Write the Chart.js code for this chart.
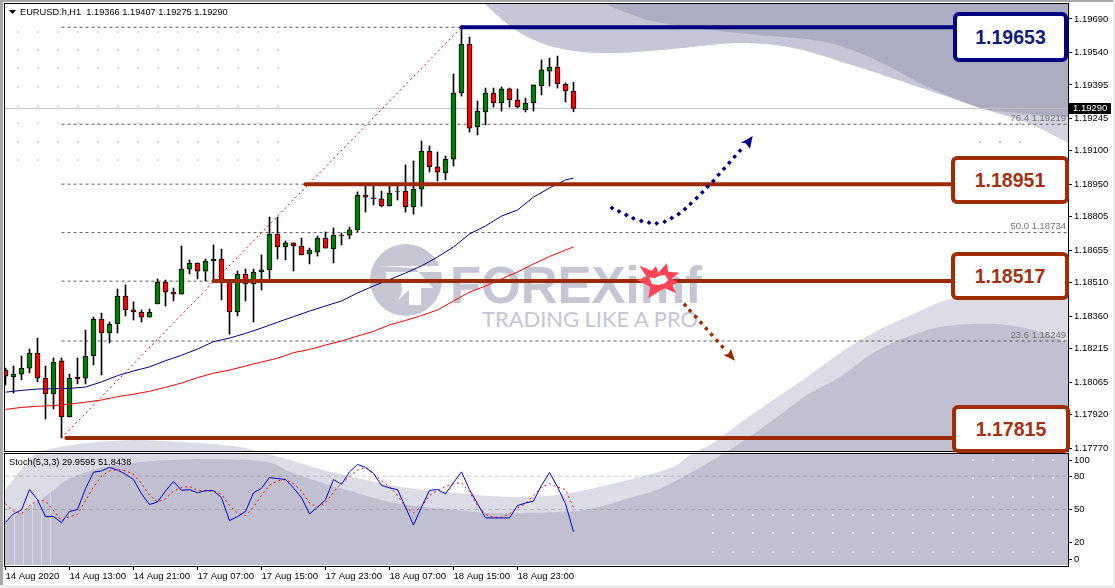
<!DOCTYPE html>
<html><head><meta charset="utf-8">
<script src="https://cdn.jsdelivr.net/npm/chart.js@4/dist/chart.umd.min.js"></script>
<style>
html,body{margin:0;padding:0;background:#fff;width:1115px;height:588px;overflow:hidden;font-family:"Liberation Sans",sans-serif}
.abs{position:absolute}
canvas{position:absolute;left:0}
.box{position:absolute;box-sizing:border-box;background:#fff;border:4px solid;border-radius:6px;font:bold 19.5px "Liberation Sans",sans-serif;display:flex;align-items:center;justify-content:center}
</style></head><body>
<div class="abs" style="left:0;top:0;width:1115px;height:2px;background:#a8a8a8"></div>
<div class="abs" style="left:0;top:0;width:3px;height:588px;background:#a8a8a8"></div>
<div class="abs" style="left:1113px;top:0;width:2px;height:588px;background:#ececec"></div>
<div class="abs" style="left:0;top:585px;width:1115px;height:3px;background:#ececec"></div>
<svg id="bg" class="abs" style="left:0;top:0" width="1115" height="588"></svg>
<canvas id="main" style="top:0" width="1115" height="452"></canvas>
<canvas id="stoch" style="top:452px" width="1115" height="136"></canvas>
<svg id="fg" class="abs" style="left:0;top:0" width="1115" height="588"></svg>
<div class="box" style="left:953px;top:12px;width:115px;height:50px;border-color:#000080;color:#101c80">1.19653</div>
<div class="box" style="left:951px;top:156px;width:118px;height:48px;border-color:#a02c00;color:#a53010">1.18951</div>
<div class="box" style="left:951px;top:252px;width:118px;height:48px;border-color:#a02c00;color:#a53010">1.18517</div>
<div class="box" style="left:952px;top:405px;width:118px;height:48px;border-color:#a02c00;color:#a53010">1.17815</div>
<script>
const symbolTitle = 'EURUSD.h,H1  1.19366 1.19407 1.19275 1.19290';
const stochTitle = 'Stoch(5,3,3) 29.9595 51.8438';
const candleOpen = [1.18119,1.18088,1.18101,1.18128,1.18195,1.18083,1.18012,1.18160,1.17909,1.18088,
1.18083,1.18182,1.18347,1.18285,1.18325,1.18450,1.18388,1.18379,1.18356,1.18415,
1.18513,1.18468,1.18459,1.18571,1.18598,1.18562,1.18607,1.18616,1.18522,1.18379,
1.18549,1.18504,1.18558,1.18567,1.18728,1.18670,1.18688,1.18674,1.18638,1.18647,
1.18710,1.18661,1.18723,1.18723,1.18746,1.18902,1.18890,1.18885,1.18853,1.18916,
1.18920,1.18849,1.18929,1.19099,1.19028,1.19001,1.19063,1.19359,1.19578,1.19207,
1.19274,1.19359,1.19314,1.19377,1.19328,1.19283,1.19314,1.19390,1.19457,1.19475,
1.19399,1.19366];
const candleClose = [1.18092,1.18101,1.18128,1.18195,1.18083,1.18012,1.18155,1.17909,1.18083,1.18079,
1.18182,1.18347,1.18285,1.18325,1.18450,1.18388,1.18379,1.18356,1.18379,1.18513,
1.18468,1.18459,1.18571,1.18598,1.18562,1.18607,1.18616,1.18522,1.18379,1.18549,
1.18504,1.18558,1.18567,1.18728,1.18670,1.18688,1.18674,1.18634,1.18656,1.18710,
1.18665,1.18723,1.18719,1.18746,1.18902,1.18893,1.18886,1.18853,1.18911,1.18918,
1.18849,1.18929,1.19099,1.19028,1.19005,1.19063,1.19359,1.19578,1.19202,1.19278,
1.19359,1.19314,1.19377,1.19328,1.19296,1.19314,1.19395,1.19462,1.19475,1.19399,
1.19368,1.19290];
const candleHigh = [1.18128,1.18137,1.18182,1.18213,1.18262,1.18137,1.18173,1.18173,1.18101,1.18173,
1.18298,1.18356,1.18374,1.18334,1.18482,1.18500,1.18424,1.18388,1.18392,1.18527,
1.18522,1.18486,1.18674,1.18612,1.18598,1.18616,1.18679,1.18661,1.18522,1.18562,
1.18571,1.18571,1.18634,1.18804,1.18804,1.18697,1.18688,1.18710,1.18665,1.18719,
1.18737,1.18755,1.18732,1.18759,1.18916,1.18947,1.18943,1.18920,1.18947,1.18947,
1.19037,1.19055,1.19144,1.19122,1.19095,1.19077,1.19444,1.19653,1.19609,1.19323,
1.19381,1.19381,1.19386,1.19381,1.19377,1.19336,1.19395,1.19507,1.19515,1.19524,
1.19404,1.19407];
const candleLow = [1.18052,1.18016,1.18075,1.18106,1.18066,1.17900,1.17945,1.17815,1.17909,1.18057,
1.18057,1.18142,1.18097,1.18240,1.18285,1.18361,1.18343,1.18334,1.18356,1.18415,
1.18406,1.18428,1.18459,1.18549,1.18527,1.18518,1.18518,1.18433,1.18280,1.18361,
1.18428,1.18334,1.18477,1.18522,1.18616,1.18612,1.18562,1.18634,1.18594,1.18629,
1.18665,1.18598,1.18679,1.18706,1.18737,1.18826,1.18858,1.18849,1.18853,1.18880,
1.18826,1.18817,1.18853,1.19005,1.18965,1.18970,1.19032,1.19345,1.19184,1.19171,
1.19216,1.19296,1.19278,1.19296,1.19292,1.19274,1.19278,1.19350,1.19390,1.19381,
1.19319,1.19275];
const maIndex = [0,2,4,6,8,10,12,14,16,18,20,22,24,26,28,30,32,34,36,38,40,42,44,46,48,50,52,54,56,58,60,62,64,66,68,70,71];
const maBlue = [1.18020,1.18028,1.18034,1.18036,1.18037,1.18043,1.18066,1.18094,1.18115,1.18133,1.18161,1.18185,1.18213,1.18246,1.18262,1.18283,1.18307,1.18333,1.18358,1.18383,1.18406,1.18428,1.18464,1.18495,1.18524,1.18553,1.18585,1.18625,1.18670,1.18728,1.18764,1.18808,1.18835,1.18893,1.18934,1.18970,1.18978];
const maRed = [1.17943,1.17952,1.17957,1.17960,1.17966,1.17975,1.17985,1.18000,1.18011,1.18024,1.18042,1.18061,1.18085,1.18105,1.18119,1.18137,1.18155,1.18172,1.18197,1.18211,1.18231,1.18249,1.18271,1.18292,1.18321,1.18341,1.18363,1.18388,1.18428,1.18468,1.18495,1.18527,1.18558,1.18594,1.18627,1.18656,1.18670];
const stochMain = [38.5,46,49.7,67.9,58.8,43.6,43.6,38.2,48.2,50,68.8,83.6,84.8,87.9,85.5,81.8,77,64.2,54.5,56.7,66.7,75.2,67.3,67.9,65.1,67,67,60.6,40,43.6,48.2,65.1,69.1,78.8,77.9,77,69.4,60.6,46,52.1,58.8,77,72.7,83.9,90.6,87.9,82.4,71.8,69.4,67.9,52.1,36,52.1,67.3,67.9,64.2,74.2,83.9,67.9,55.2,42.4,42.4,42.4,42.4,53.6,55.8,57.6,71.8,83.3,70.3,55.2,29.96];
const stochSignal = [55.2,48.5,46,53.6,58.2,57.6,49.1,40,43.6,45.5,58.2,70.3,80,84.8,86,84.8,81.8,73.3,62.7,56.7,59.7,66.7,69.7,70.9,67.3,66.7,66.7,63.6,53.6,46.7,44.5,52.1,62.7,71.8,75.8,77,73.3,66.7,55.8,52.1,56.1,65.8,73.3,80,85.5,87.9,82.4,75.8,70.9,62.7,52.1,47,52.7,62.7,67.3,70.9,73.3,74.2,65.8,53.6,45.5,43,43,46,51.5,55.2,62.7,70.3,73.3,70.3,67.9,51.84];
const timeLabels = ['14 Aug 2020','14 Aug 13:00','14 Aug 21:00','17 Aug 07:00','17 Aug 15:00','17 Aug 23:00','18 Aug 07:00','18 Aug 15:00','18 Aug 23:00'];
const priceTicks = [1.19690,1.19540,1.19395,1.19245,1.19100,1.18950,1.18805,1.18655,1.18510,1.18360,1.18215,1.18065,1.17920,1.17770];
const stochTickSpots = [94,80,50,20,5];
const stochTickLabels = ['100','80','50','20','0'];
const stochLevels = [80,50];
const lastPrice = 1.19290;
const fibPrices = [1.19653,1.19219,1.18951,1.18734,1.18517,1.18249];
const fibLabels = ['','76.4','','50.0','','23.6'];
const fibStart = 7, fibHigh = 57, fibLow = 1.17815;
const levelPrices = [1.19653,1.18951,1.18517,1.17815];
const levelStart = [57,37.5,26,7.6];
const levelColors = ['#000080','#9c2a00','#9c2a00','#9c2a00'];

const FONT = '9.5px "Liberation Sans"';
const TITLE_FONT = '9.25px "Liberation Sans"';
const xMin = -0.0625, xMax = 132.8125;
const idx = candleOpen.map((_, i) => i);
const hl = (x0, y) => [{x:x0,y},{x:xMax,y}];
const rightW = 47;
const noPad = s => { s.paddingTop=0; s.paddingBottom=0; s.paddingLeft=0; s.paddingRight=0; };

const xScale = (display) => ({
  type:'linear', min:xMin, max:xMax, offset:false, display,
  grid:{display, drawOnChartArea:false, tickLength:4, tickColor:'#000', offset:false},
  border:{display:false},
  afterBuildTicks:s=>{ s.ticks = timeLabels.map((_,i)=>({value:i*8})); },
  ticks:{autoSkip:false, maxRotation:0, align:'start', color:'#000', font:{family:'Liberation Sans',size:9.5}, padding:1,
    callback:v=>timeLabels[v/8]},
  afterFit:s=>{ s.height = display?22:0; noPad(s); }
});
const frame = {
  id:'frame',
  afterDraw(c){
    const a=c.chartArea, g=c.ctx; g.save(); g.strokeStyle='#000'; g.lineWidth=1;
    g.strokeRect(a.left-0.5,a.top-0.5,a.right-a.left+1,a.bottom-a.top+1); g.restore();
  }
};
const mainText = {
  id:'mainText',
  afterDraw(c){
    const g=c.ctx, y=c.scales.y; g.save(); g.font=TITLE_FONT; g.textBaseline='middle';
    g.fillStyle='#000'; g.beginPath(); g.moveTo(9,10); g.lineTo(16,10); g.lineTo(12.5,14); g.closePath(); g.fill();
    g.fillStyle='#000'; g.textAlign='left'; g.fillText(symbolTitle,20,12.5);
    g.font=FONT; g.fillStyle='#747474'; g.textAlign='right';
    fibPrices.forEach((p,i)=>{ if(fibLabels[i]) g.fillText(fibLabels[i]+' '+p.toFixed(5),1066,y.getPixelForValue(p)-6); });
    const ty=Math.round(y.getPixelForValue(lastPrice));
    g.fillStyle='#000'; g.fillRect(1069,ty-5,42,11);
    g.fillStyle='#fff'; g.textAlign='left'; g.fillText(lastPrice.toFixed(5),1073,ty+0.5);
    g.restore();
  }
};
const stochText = {
  id:'stochText',
  afterDraw(c){ const g=c.ctx; g.save(); g.font=TITLE_FONT; g.textBaseline='middle'; g.fillStyle='#000'; g.textAlign='left'; g.fillText(stochTitle,9,10.5); g.restore(); }
};
const line = (data,color,extra) => Object.assign({type:'line',data,borderColor:color,borderWidth:1,pointRadius:0,tension:0,fill:false},extra||{});

new Chart(document.getElementById('main'),{
  type:'bar',
  data:{datasets:[
    ...fibPrices.map(p=>line(hl(fibStart,p),'#5a5a5a',{borderDash:[3,3],order:20})),
    line(hl(xMin,lastPrice),'#c0c0c0',{order:19}),
    {type:'bar',data:idx.map(i=>({x:i,y:[candleLow[i],candleHigh[i]]})),backgroundColor:'#000',borderWidth:0,barThickness:1,grouped:false,order:10},
    {type:'bar',data:idx.map(i=>({x:i,y:[candleOpen[i],candleClose[i]]})),
      backgroundColor:idx.map(i=>candleClose[i]>=candleOpen[i]?'#008000':'#ff0000'),borderColor:'#000',borderWidth:1,borderSkipped:false,barThickness:5,grouped:false,order:9},
    line(maIndex.map((x,i)=>({x,y:maBlue[i]})),'#000080',{order:5}),
    line(maIndex.map((x,i)=>({x,y:maRed[i]})),'#ff0000',{order:4}),
    line([{x:fibStart,y:fibLow},{x:fibHigh,y:fibPrices[0]}],'#ff0000',{borderDash:[2,3],order:3}),
    ...levelPrices.map((p,i)=>line([{x:levelStart[i],y:p},{x:124,y:p}],levelColors[i],{borderWidth:4,borderCapStyle:'round',order:1}))
  ]},
  options:{
    responsive:false,animation:false,events:[],
    layout:{padding:{left:5,top:4,right:0,bottom:1}},
    plugins:{legend:{display:false},tooltip:{enabled:false},title:{display:false}},
    scales:{
      x:xScale(false),
      y:{type:'linear',position:'right',min:1.177568,max:1.197571,
        grid:{drawOnChartArea:false,tickLength:4,tickColor:'#000'},border:{display:false},
        afterBuildTicks:s=>{ s.ticks=priceTicks.map(value=>({value})); },
        ticks:{autoSkip:false,color:'#000',font:{family:'Liberation Sans',size:9.5},padding:2,callback:v=>v.toFixed(5)},
        afterFit:s=>{ s.width=rightW; noPad(s); }}
    }
  },
  plugins:[frame,mainText]
});

new Chart(document.getElementById('stoch'),{
  type:'line',
  data:{datasets:[
    ...stochLevels.map(v=>line(hl(xMin,v),'rgba(110,110,110,0.35)',{borderDash:[4,3],order:9})),
    line(idx.map(i=>({x:i,y:stochSignal[i]})),'#ff0000',{borderDash:[2,3],order:6}),
    line(idx.map(i=>({x:i,y:stochMain[i]})),'#0000d0',{order:5})
  ]},
  options:{
    responsive:false,animation:false,events:[],
    layout:{padding:{left:5,top:2,right:0,bottom:0}},
    plugins:{legend:{display:false},tooltip:{enabled:false}},
    scales:{
      x:xScale(true),
      y:{type:'linear',position:'right',min:-0.9,max:100,
        grid:{drawOnChartArea:false,tickLength:4,tickColor:'#000'},border:{display:false},
        afterBuildTicks:s=>{ s.ticks=stochTickSpots.map(value=>({value})); },
        ticks:{autoSkip:false,color:'#000',font:{family:'Liberation Sans',size:9.5},padding:2,callback:v=>stochTickLabels[stochTickSpots.indexOf(v)]},
        afterFit:s=>{ s.width=rightW; noPad(s); }}
    }
  },
  plugins:[frame,stochText]
});

/* ---- decorative watermark behind the chart ---- */
const pts = a => a.map(p=>p.join(',')).join(' ');
function smooth(a){
  let d='M'+a[0][0]+' '+a[0][1];
  for(let i=0;i<a.length-1;i++){
    const p0=a[Math.max(i-1,0)],p1=a[i],p2=a[i+1],p3=a[Math.min(i+2,a.length-1)];
    d+=' C'+(p1[0]+(p2[0]-p0[0])/6)+' '+(p1[1]+(p2[1]-p0[1])/6)+' '+(p2[0]-(p3[0]-p1[0])/6)+' '+(p2[1]-(p3[1]-p1[1])/6)+' '+p2[0]+' '+p2[1];
  }
  return d;
}
let s='<defs><clipPath id="pan"><rect x="5" y="4" width="1063" height="447"/><rect x="5" y="454" width="1063" height="111"/></clipPath></defs><g clip-path="url(#pan)">';
const DOT_G='#cfcfda', DOT_W='#f2f2f7';
const dot=(x,y,c)=>'<rect x="'+(x-0.8)+'" y="'+(y-0.8)+'" width="1.7" height="1.7" fill="'+c+'"/>';
const topPale=[[485,4],[516,30],[554,47],[604,53],[661,50],[737,43],[794,48],[852,65],[928,90],[981,108],[1030,124],[1068,143]];
s+='<path d="'+smooth(topPale)+' L1068 4 Z" fill="#d4d4e1"/>';
const topMid=[[485,4],[516,30],[554,47],[604,53],[661,50],[737,43],[794,48],[852,65],[928,90],[981,108],[1005,115]];
s+='<path d="'+smooth(topMid)+' L1068 117 L1068 4 Z" fill="#c6c6d6"/>';
const topDark=[[605,4],[630,14],[661,23],[737,33],[813,40],[852,50],[890,67],[928,87],[981,108],[1020,113],[1068,117]];
s+='<path d="'+smooth(topDark)+' L1068 4 Z" fill="#adadc1"/>';
const botPale=[[5,490],[25,465],[40,452],[80,444],[133,440],[180,442],[233,446],[257,451],[290,460],[323,470],[357,478],[390,485],[423,490],[457,493],[490,496],[523,497],[557,495],[590,489],[640,477],[673,467],[690,455],[713,443],[740,423],[773,400],[807,377],[840,353],[873,333],[907,317],[953,298],[1010,290],[1068,297]];
s+='<path d="'+smooth(botPale)+' L1068 565 L5 565 Z" fill="#dcdce6"/>';
const botDark=[[5,522],[50,493],[67,480],[100,468],[133,463],[167,460],[217,459],[267,462],[290,472],[323,483],[357,493],[390,502],[423,507],[457,510],[490,513],[523,513],[557,512],[590,509],[640,495],[657,490],[683,477],[713,460],[740,443],[773,420],[807,395],[840,377],[873,353],[907,337],[940,327],[973,324],[1007,325],[1040,332],[1068,343]];
s+='<path d="'+smooth(botDark)+' L1068 565 L5 565 Z" fill="#c0c0d0"/>';
[14,23,32,41,50].forEach(x=>{ s+='<rect x="'+x+'" y="494" width="1" height="71" fill="#dcdce6"/>'; });
for(let x=18;x<=278;x+=20) for(const y of [32,50,68,87,106,123,142,160]) s+=dot(x,y,DOT_G);
for(const x of [980,1000,1020]) for(const y of [68,87,105,123,142]) s+=dot(x,y,'#b0b0bf');
for(let x=713;x<=1053;x+=20){ for(const y of [515,533,552]) s+=dot(x,y,DOT_W); if(x>=973) for(const y of [460,478,497]) s+=dot(x,y,DOT_W); }
s+='</g>';
const L='#c5c5d4';
s+='<circle cx="406" cy="280" r="36" fill="'+L+'"/>';
s+='<path d="M378 266 L441 266 L441 272 L386 272 L386 283 L401 283 Q404 292 398 300 L409 290 L409 305 L421 305 L421 288 L433 288 L415 268 Z" fill="#fff"/>';
s+='<text x="450" y="303" font-family="Liberation Sans" font-weight="bold" font-size="52" textLength="252" lengthAdjust="spacingAndGlyphs" fill="'+L+'">FOREXimf</text>';
s+='<text x="482" y="327" font-family="Lato,Liberation Sans" font-size="21" textLength="216" lengthAdjust="spacingAndGlyphs" fill="'+L+'">TRADING LIKE A PRO</text>';
document.getElementById('bg').innerHTML=s;

const zoomA=z=>[600+z[0]/3,120+z[1]/3];
const zoomB=z=>[350+z[0]/3,230+z[1]/3];
const square=(p,c)=>{const r=2.4;return '<polygon points="'+pts([[p[0],p[1]-r],[p[0]+r,p[1]],[p[0],p[1]+r],[p[0]-r,p[1]]])+'" fill="'+c+'"/>';};
let f='';
[[36,264],[57,274],[79,285],[100,295],[124,303],[147,308],[170,310],[194,305],[215,294],[236,282],[255,267],[272,251],[290,234],[307,217],[323,200],[340,183],[356,164],[372,146],[388,128],[404,110],[420,92]].forEach(z=>{f+=square(zoomA(z),'#000080');});
f+='<polygon points="'+pts([[458,48],[423,68],[437,70],[450,86]].map(zoomA))+'" fill="#000080"/>';
[[255,555],[270,572],[287,590],[303,608],[319,626],[335,644],[351,662],[367,680]].forEach(z=>{f+=square(zoomA(z),'#9c2a00');});
f+='<polygon points="'+pts([[1155,392],[1120,375],[1134,372],[1143,357]].map(zoomB))+'" fill="#9c2a00"/>';
f+='<polygon points="'+pts([[868,107],[905,122],[918,108],[925,128],[950,100],[955,125],[988,128],[965,145],[985,158],[968,165],[978,190],[945,175],[930,182],[895,205],[900,170],[860,150],[890,140]].map(zoomB))+'" fill="#ff4455"/>';
f+='<polygon points="'+pts([[898,142],[915,145],[925,138],[945,135],[955,150],[945,160],[925,165],[905,162]].map(zoomB))+'" fill="#fff"/>';
document.getElementById('fg').innerHTML=f;
</script>
</body></html>
